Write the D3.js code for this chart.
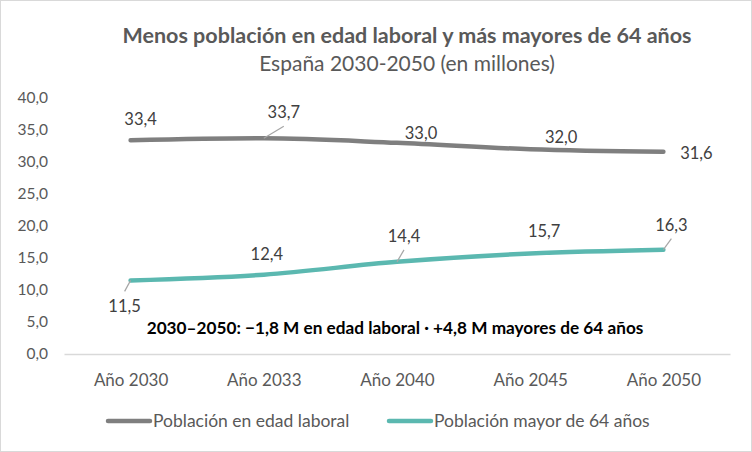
<!DOCTYPE html>
<html>
<head>
<meta charset="utf-8">
<script src="https://cdn.jsdelivr.net/npm/d3@7"></script>
<style>
  html, body { margin: 0; padding: 0; background: #fff; }
  svg { display: block; font-family: Lato, 'Open Sans', sans-serif; }
</style>
</head>
<body>
<svg id="chart" width="752" height="452"></svg>
<script>
// Data
const years = ["Año 2030", "Año 2033", "Año 2040", "Año 2045", "Año 2050"];
const workingAge = [33.4, 33.7, 33.0, 32.0, 31.6];
const over64 = [11.5, 12.4, 14.4, 15.7, 16.3];
const yTicks = [0, 5, 10, 15, 20, 25, 30, 35, 40];
const seriesNames = ["Población en edad laboral", "Población mayor de 64 años"];

const W = 752, H = 452;
const margin = { top: 98, right: 22, bottom: 98, left: 64 };
const textColor = '#595959';
const colors = ['#7f7f7f', '#5bb8b0'];

// Label offsets from each point (px), like Excel's dragged data labels
const labelOffsets = [
    [[10, -21], [20, -26, true], [24, -10], [31, -12], [33, 1]],
    [[-6, 26, true], [3, -21], [7, -26, true], [14, -22], [8, -25, true]]
];

const locale = d3.formatLocale({ decimal: ",", thousands: ".", grouping: [3], currency: ["", " €"] });
const fmt = locale.format(".1f");

const svg = d3.select('#chart');

// Border
svg.append('rect')
    .attr('x', 0.5).attr('y', 0.5)
    .attr('width', W - 1).attr('height', H - 1)
    .attr('fill', '#fff')
    .attr('stroke', '#d9d9d9');

// Scales
const x = d3.scalePoint()
    .domain(years)
    .range([margin.left, W - margin.right])
    .padding(0.5);

const y = d3.scaleLinear()
    .domain([0, 40])
    .range([H - margin.bottom, margin.top]);

// Title
svg.append('text')
    .attr('x', 407).attr('y', 43)
    .attr('text-anchor', 'middle')
    .attr('fill', textColor)
    .attr('font-size', 21.5)
    .attr('font-weight', 'bold')
    .text('Menos población en edad laboral y más mayores de 64 años');

svg.append('text')
    .attr('x', 407).attr('y', 71)
    .attr('text-anchor', 'middle')
    .attr('fill', textColor)
    .attr('font-size', 21)
    .text('España 2030-2050 (en millones)');

// Y axis (labels only)
const yAxis = svg.append('g')
    .attr('transform', `translate(${margin.left - 16},0)`)
    .call(d3.axisLeft(y).tickValues(yTicks).tickFormat(fmt).tickSize(0).tickPadding(0));
yAxis.select('.domain').remove();
yAxis.selectAll('text')
    .attr('fill', textColor)
    .attr('font-size', 15.5)
    .attr('font-family', 'Lato, sans-serif');

// X axis
const xAxis = svg.append('g')
    .attr('transform', `translate(0,${y(0)})`)
    .call(d3.axisBottom(x).tickSize(0).tickSizeOuter(0).tickPadding(20));
xAxis.select('.domain')
    .attr('stroke', '#d9d9d9')
    .attr('stroke-width', 1.5);
xAxis.selectAll('text')
    .attr('fill', textColor)
    .attr('font-size', 17)
    .attr('font-family', 'Lato, sans-serif');

// Lines
const line = d3.line()
    .x((d, i) => x(years[i]))
    .y(d => y(d))
    .curve(d3.curveMonotoneX);

[workingAge, over64].forEach((values, s) => {
    svg.append('path')
        .datum(values)
        .attr('fill', 'none')
        .attr('stroke', colors[s])
        .attr('stroke-width', 4.5)
        .attr('stroke-linecap', 'round')
        .attr('stroke-linejoin', 'round')
        .attr('d', line);

    // Data labels with leader lines
    values.forEach((v, i) => {
        const [dx, dy, leader] = labelOffsets[s][i];
        const px = x(years[i]), py = y(v);
        const lx = px + dx, ly = py + dy;
        if (leader) {
            svg.append('line')
                .attr('x1', px).attr('y1', py)
                .attr('x2', lx).attr('y2', ly + (dy < 0 ? 14 : -15))
                .attr('stroke', '#a6a6a6')
                .attr('stroke-width', 1.2);
        }
        svg.append('text')
            .attr('x', lx).attr('y', ly)
            .attr('dy', '0.36em')
            .attr('text-anchor', 'middle')
            .attr('fill', '#404040')
            .attr('font-size', 16.5)
            .text(fmt(v));
    });
});

// Annotation
svg.append('text')
    .attr('x', 395).attr('y', 328)
    .attr('dy', '0.36em')
    .attr('text-anchor', 'middle')
    .attr('fill', '#000')
    .attr('font-size', 17.2)
    .attr('font-weight', 'bold')
    .text('2030–2050: −1,8 M en edad laboral · +4,8 M mayores de 64 años');

// Legend
const legendX = [108, 389];
const legend = svg.selectAll('.legend')
    .data(seriesNames)
    .enter()
    .append('g')
    .attr('class', 'legend')
    .attr('transform', (d, i) => `translate(${legendX[i]},421)`);

legend.append('line')
    .attr('x1', 0).attr('x2', 42)
    .attr('stroke', (d, i) => colors[i])
    .attr('stroke-width', 4.5)
    .attr('stroke-linecap', 'round');

legend.append('text')
    .attr('x', 45)
    .attr('dy', '0.36em')
    .attr('fill', textColor)
    .attr('font-size', 17.5)
    .text(d => d);
</script>
</body>
</html>
